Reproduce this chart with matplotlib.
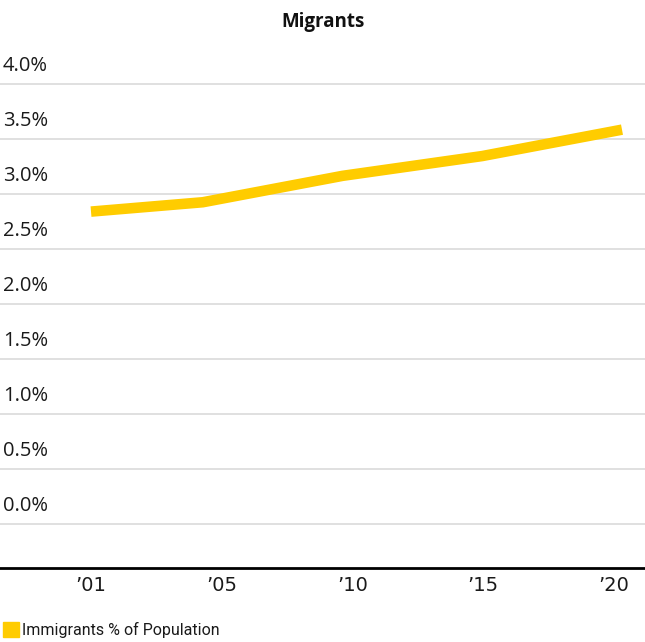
import matplotlib
matplotlib.use("Agg")
import matplotlib.pyplot as plt
import matplotlib.transforms as mtransforms
import matplotlib.patches as mpatches
import numpy as np

# Data
years = [2001, 2005, 2010, 2015, 2020]
immigrants_pct = [2.84, 2.925, 3.165, 3.345, 3.585]
y_ticks = [0.0, 0.5, 1.0, 1.5, 2.0, 2.5, 3.0, 3.5, 4.0]
y_tick_labels = ["0.0%", "0.5%", "1.0%", "1.5%", "2.0%", "2.5%", "3.0%", "3.5%", "4.0%"]
x_tick_labels = ["\u201901", "\u201905", "\u201910", "\u201915", "\u201920"]
title = "Migrants"
series_name = "Immigrants % of Population"

W, H = 645, 642
fig = plt.figure(figsize=(W / 100, H / 100), dpi=100)
fig.patch.set_facecolor("white")

ax_bottom_px, ax_top_px = 568, 84
ax = fig.add_axes([0, (H - ax_bottom_px) / H, 1, (ax_bottom_px - ax_top_px) / H])
ax.set_facecolor("white")

# x scale: 2001 -> px 91, 2020 -> px 622
px_per_year = (622 - 91) / (2020 - 2001)
x0 = 2001 - 91 / px_per_year
x1 = x0 + W / px_per_year
ax.set_xlim(x0, x1)
ax.set_ylim(-0.4, 4.0)

# gridlines
for v in y_ticks:
    ax.axhline(v, color="#dddddd", lw=1.3, zorder=1, clip_on=False)

# line
ax.plot(years, immigrants_pct, color="#FFCC00", lw=7.6, solid_capstyle="butt",
        solid_joinstyle="round", zorder=3)

# y labels above gridlines
trans = mtransforms.blended_transform_factory(fig.transFigure, ax.transData)
off = mtransforms.ScaledTranslation(0, 13 / 100, fig.dpi_scale_trans)
for v, lab in zip(y_ticks, y_tick_labels):
    ax.text(3 / W, v, lab, transform=trans + off, ha="left", va="baseline",
            fontsize=14.5, family="Open Sans", color="#1a1a1a")

# axes spines
for s in ["left", "right", "top"]:
    ax.spines[s].set_visible(False)
ax.spines["bottom"].set_color("black")
ax.spines["bottom"].set_linewidth(2.0)
ax.set_yticks([])

tick_pos = np.linspace(years[0], 2019.7, len(x_tick_labels))
ax.set_xticks(tick_pos)
ax.set_xticklabels(x_tick_labels, family="DejaVu Sans", fontsize=14, color="#1a1a1a")
ax.tick_params(axis="x", length=0, pad=6)

# title
fig.text(323 / W, 1 - 22 / H, title, ha="center", va="center", fontsize=13.5,
         fontweight="bold", family="Open Sans", color="#111111")

# legend
fig.patches.append(mpatches.Rectangle((3 / W, 1 - 637 / H), 16 / W, 15 / H,
                                      transform=fig.transFigure, color="#FFCC00"))
fig.text(22 / W, 1 - 630 / H, series_name, ha="left", va="center", fontsize=11.5,
         family="Roboto", color="#1a1a1a")

fig.savefig("out.png", dpi=100, facecolor="white")
